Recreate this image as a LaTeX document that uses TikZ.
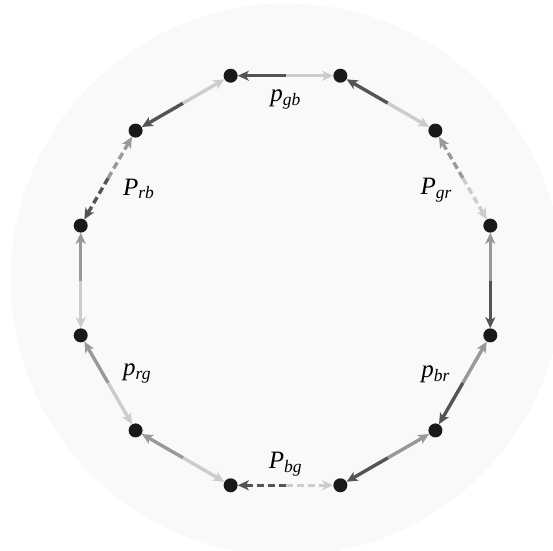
\documentclass[tikz,border=0pt]{standalone}
\usepackage{fontspec}
\setmainfont{Liberation Serif}
\usetikzlibrary{arrows.meta,calc}
\colorlet{toneb}{black!67}
\colorlet{toner}{black!40}
\colorlet{toneg}{black!20}
\tikzset{
  vertex/.style={circle, fill=black!90, inner sep=0pt, minimum size=14pt},
  half/.style={line width=3.4pt, -{Stealth[length=11pt,width=10pt,inset=3pt]}},
  dashhalf/.style={half, dash pattern=on 7pt off 4pt},
  lab/.style={font=\fontsize{25}{30}\selectfont\itshape}
}

\begin{document}
\begin{tikzpicture}[x=1pt,y=1pt]
  \useasboundingbox (-285.5,-269.5) rectangle (267.5,280.5);
  \fill[black!2.5] (1,1) circle (276);
  \foreach \i in {1,...,12}
    \node[vertex] (v\i) at ({105-30*\i}:212) {};
  \foreach \a/\b/\ca/\cb/\st in {12/1/toneb/toneg/half, 1/2/toneb/toneg/half,
      2/3/toner/toneg/dashhalf, 3/4/toner/toneb/half, 4/5/toner/toneb/half,
      5/6/toner/toneb/half, 6/7/toneg/toneb/dashhalf, 7/8/toneg/toner/half,
      8/9/toneg/toner/half, 9/10/toneg/toner/half, 10/11/toneb/toner/dashhalf,
      11/12/toneb/toneg/half} {
    \coordinate (m\a) at ($(v\a)!0.5!(v\b)$);
    \draw[\st, color=\ca] (m\a) -- (v\a);
    \draw[\st, color=\cb] (m\a) -- (v\b);
  }
  \node[lab] (lgb) at (90:181) {\textit{p}\textsubscript{\textit{gb}}};
  \node[lab] (lgr) at (31:176) {\textit{P}\textsubscript{\textit{gr}}};
  \node[lab] (lbr) at (-32:177) {\textit{p}\textsubscript{\textit{br}}};
  \node[lab] (lbg) at (-90:184) {\textit{P}\textsubscript{\textit{bg}}};
  \node[lab] (lrg) at (-148:175) {\textit{p}\textsubscript{\textit{rg}}};
  \node[lab] (lrb) at (148:173) {\textit{P}\textsubscript{\textit{rb}}};
\end{tikzpicture}
\end{document}
